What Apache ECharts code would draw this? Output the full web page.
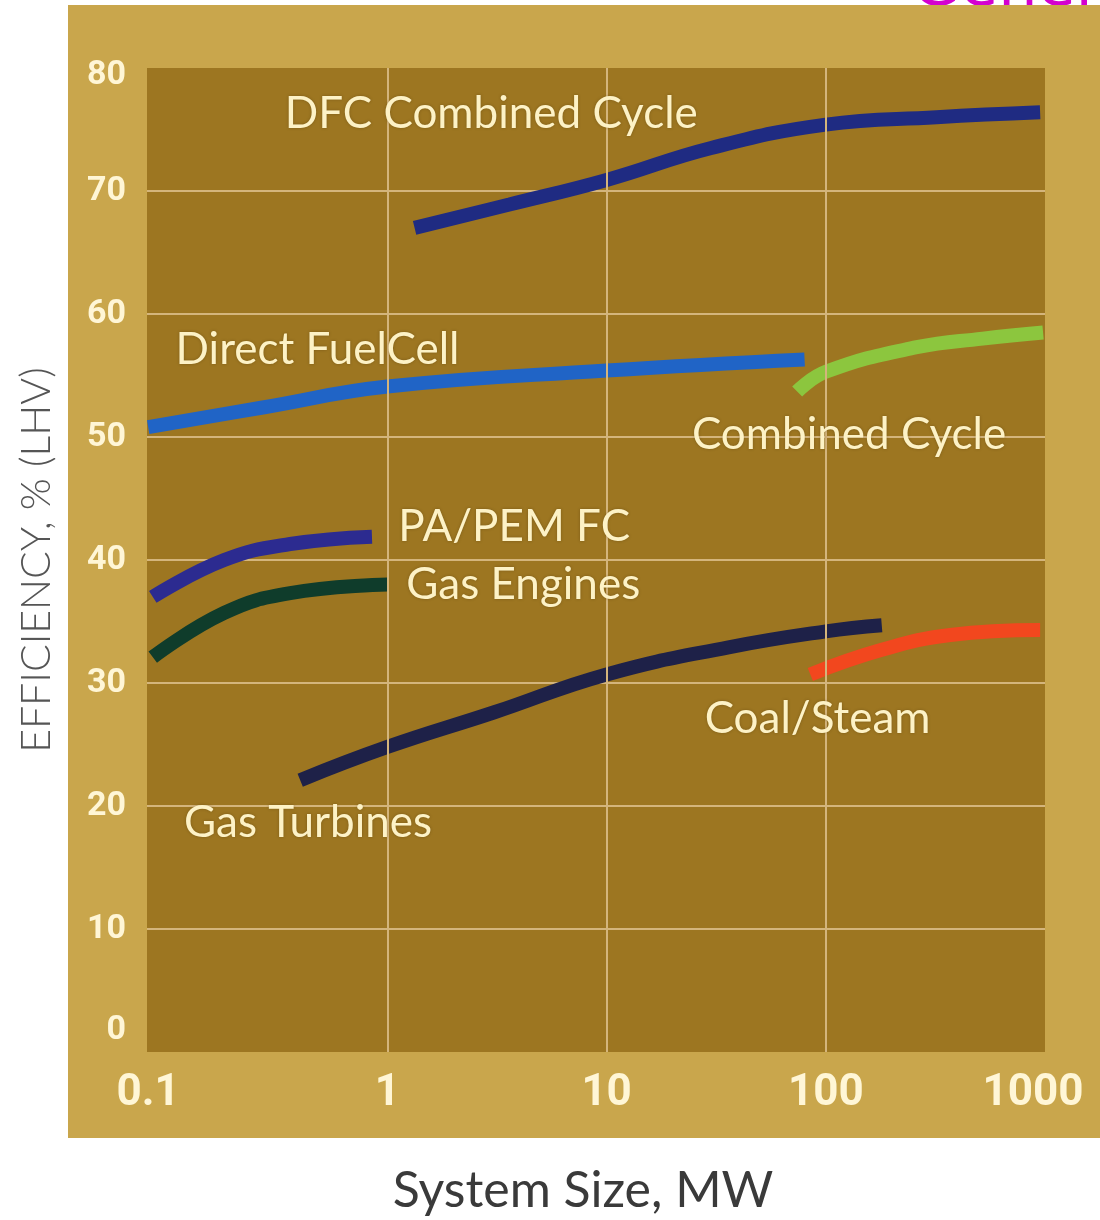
<!DOCTYPE html>
<html>
<head>
<meta charset="utf-8">
<script src="https://cdn.jsdelivr.net/npm/echarts@6/dist/echarts.min.js"></script>
<style>
    html, body { margin: 0; padding: 0; background: #fff; }
    #main { width: 1100px; height: 1220px; }
</style>
</head>
<body>
<div id="main"></div>
<script>
// system size (MW) vs efficiency (% LHV)
var xTickValues = [0.1, 1, 10, 100, 1000];
var xGridValues = [1, 10, 100];

var dfcCombined = [[1.33, 67.0], [3.6, 68.9], [10, 70.9], [30, 73.5], [100, 75.4], [320, 76.0], [950, 76.4]];
var directFuelCell = [[0.081, 50.8], [0.27, 52.4], [1, 54.1], [10, 55.4], [80, 56.3]];
var combinedCycle = [[74, 53.7], [100, 55.3], [260, 57.3], [520, 58.0], [980, 58.5]];
var paPemFc = [[0.085, 37.0], [0.18, 40.0], [0.36, 41.3], [0.85, 41.9]];
var gasEngines = [[0.085, 32.1], [0.18, 35.7], [0.36, 37.3], [1, 38.0]];
var gasTurbines = [[0.40, 22.1], [1, 24.8], [3.05, 27.6], [10, 30.7], [36, 32.9], [100, 34.2], [180, 34.7]];
var coalSteam = [[85, 30.7], [180, 32.7], [370, 33.9], [950, 34.3]];

var seriesNames = ['DFC Combined Cycle', 'Direct FuelCell', 'Combined Cycle', 'PA/PEM FC', 'Gas Engines', 'Gas Turbines', 'Coal/Steam'];
var seriesData = [dfcCombined, directFuelCell, combinedCycle, paPemFc, gasEngines, gasTurbines, coalSteam];
// where each curve's name sits (MW, %)
var labelAnchors = [[0.34, 76.3], [0.108, 57.1], [24.5, 50.2], [1.12, 42.7], [1.22, 38.0], [0.118, 18.6], [28, 27.1]];

var colors = ['#1f2b82', '#2064c6', '#8cc63e', '#2c2b90', '#0f3c2b', '#1e2148', '#f2471e'];
var gridColor = '#d4b57c';
var tickFont = 'Roboto, "Liberation Sans", sans-serif';

var series = [];

// vertical grid lines at the decades, under the curves
series.push({
    type: 'line',
    name: 'grid',
    data: [],
    silent: true,
    z: 1,
    markLine: {
        silent: true,
        symbol: 'none',
        label: { show: false },
        lineStyle: { color: gridColor, width: 2, type: 'solid' },
        data: xGridValues.map(function (v) { return { xAxis: v }; })
    }
});

for (var i = 0; i < seriesNames.length; i++) {
    series.push({
        type: 'line',
        name: seriesNames[i],
        data: seriesData[i],
        smooth: 0.45,
        showSymbol: false,
        silent: true,
        z: 3,
        lineStyle: { color: colors[i], width: 14, cap: 'butt' },
        markPoint: {
            symbol: 'circle',
            symbolSize: 0,
            silent: true,
            label: {
                show: true,
                position: 'right',
                distance: 0,
                formatter: seriesNames[i],
                color: '#fdf2c6',
                fontFamily: 'Lato',
                fontSize: 44,
                textShadowColor: 'rgba(60,40,0,0.35)',
                textShadowBlur: 3
            },
            data: [{ coord: labelAnchors[i] }]
        }
    });
}

var option = {
    backgroundColor: '#ffffff',
    animation: false,
    graphic: [
        {
            type: 'text',
            x: 912, y: 20,
            z: -20,
            style: { text: 'Gener', fill: '#d400d0', font: '62px "DejaVu Sans"', verticalAlign: 'bottom' }
        },
        {
            type: 'rect',
            x: 68, y: 5,
            z: -10,
            shape: { width: 1040, height: 1133 },
            style: { fill: '#c9a64c' }
        }
    ],
    grid: {
        left: 147, right: 55, top: 68, bottom: 168,
        outerBoundsMode: 'none',
        containLabel: false,
        show: true,
        backgroundColor: '#9d7621',
        borderWidth: 0
    },
    xAxis: {
        type: 'log',
        logBase: 10,
        min: 0.08,
        max: 1000,
        name: 'System Size, MW',
        nameLocation: 'middle',
        nameGap: 114,
        nameTextStyle: { color: '#3a3a3a', fontFamily: 'Lato', fontSize: 50, padding: [0, 26, 0, 0] },
        axisLine: { show: false },
        axisTick: { show: false },
        splitLine: { show: false },
        axisLabel: {
            showMinLabel: false,
            margin: 20,
            formatter: function (v) {
                var idx = -1;
                for (var k = 0; k < xTickValues.length; k++) {
                    if (Math.abs(v - xTickValues[k]) < 1e-6 * xTickValues[k]) idx = k;
                }
                if (idx < 0) return '';
                if (idx === 0) return '{first|' + xTickValues[idx] + '}';
                if (idx === xTickValues.length - 1) return '{last|' + xTickValues[idx] + '}';
                return '{n|' + xTickValues[idx] + '}';
            },
            rich: {
                n: { color: '#fff6d6', fontSize: 44, fontWeight: 'bold', fontFamily: tickFont },
                first: { color: '#fff6d6', fontSize: 44, fontWeight: 'bold', fontFamily: tickFont, padding: [0, 40, 0, 0] },
                last: { color: '#fff6d6', fontSize: 44, fontWeight: 'bold', fontFamily: tickFont, padding: [0, 24, 0, 0] }
            }
        }
    },
    yAxis: {
        type: 'value',
        min: 0,
        max: 80,
        interval: 10,
        name: 'EFFICIENCY, % (LHV)',
        nameLocation: 'middle',
        nameGap: 90,
        nameTextStyle: { color: '#555555', fontFamily: 'Lato', fontWeight: 300, fontSize: 41 },
        axisLine: { show: false },
        axisTick: { show: false },
        splitLine: { show: true, showMinLine: false, showMaxLine: false, lineStyle: { color: gridColor, width: 2 } },
        axisLabel: {
            margin: 21,
            formatter: function (v) {
                if (v === 0) return '{bottom|' + v + '}';
                if (v === 80) return '{top|' + v + '}';
                return '{n|' + v + '}';
            },
            rich: {
                n: { color: '#fff6d6', fontSize: 34, fontWeight: 'bold', fontFamily: tickFont },
                bottom: { color: '#fff6d6', fontSize: 34, fontWeight: 'bold', fontFamily: tickFont, padding: [0, 0, 44, 0] },
                top: { color: '#fff6d6', fontSize: 34, fontWeight: 'bold', fontFamily: tickFont, padding: [14, 0, 0, 0] }
            }
        }
    },
    series: series
};

var myChart = echarts.init(document.getElementById('main'), null, { renderer: 'canvas' });
myChart.setOption(option);
</script>
</body>
</html>
